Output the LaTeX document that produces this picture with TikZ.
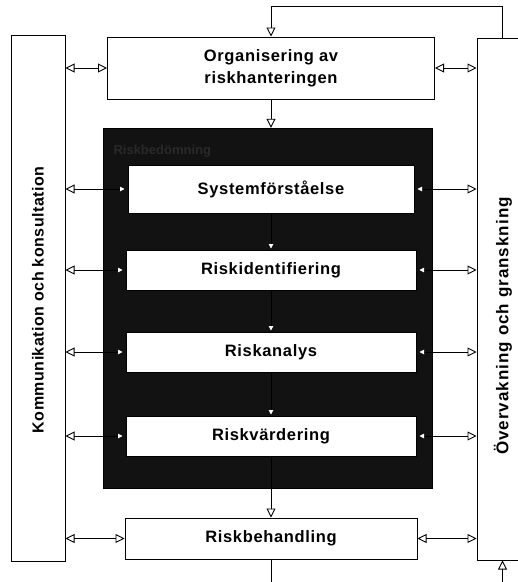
\documentclass[tikz,border=0pt]{standalone}
\usepackage{fontspec}
\setmainfont{Liberation Sans}
\usetikzlibrary{arrows.meta}
\begin{document}
\begin{tikzpicture}[x=1pt,y=-1pt,
  box/.style={draw=black, line width=1pt, fill=white, inner sep=0pt},
  lbl/.style={font=\bfseries\fontsize{16.5}{22}\selectfont\addfontfeature{LetterSpace=4}, align=center},
  vlbl/.style={font=\bfseries\fontsize{16}{20}\selectfont\addfontfeature{LetterSpace=3}, rotate=90},
  conn/.style={line width=0.9pt},
  oarr/.style={conn,-{Triangle[open,length=9pt,width=9pt,line width=0.9pt]}},
  dbl/.style={conn,{Triangle[open,length=9pt,width=9pt,line width=0.9pt]}-{Triangle[open,length=9pt,width=9pt,line width=0.9pt]}},
  lw/.style={conn,{Triangle[open,length=9pt,width=9pt,line width=0.9pt]}-{Triangle[length=4.5pt,width=4.5pt,color=white]}},
  rw/.style={conn,{Triangle[length=4.5pt,width=4.5pt,color=white]}-{Triangle[open,length=9pt,width=9pt,line width=0.9pt]}},
  dw/.style={conn,-{Triangle[length=4.5pt,width=4.5pt,color=white]}}
]
\useasboundingbox (0,0) rectangle (518,582);
\clip (0,0) rectangle (518,582);
\fill[white] (0,0) rectangle (518,582);

% side boxes
\node[box, minimum width=54pt, minimum height=526pt] (kom) at (38,298) {};
\node[vlbl] (komt) at (38,300) {Kommunikation och konsultation};
\node[box, minimum width=83pt, minimum height=522pt] (ovr) at (518.5,299) {};
\node[vlbl, font=\bfseries\fontsize{17}{20}\selectfont\addfontfeature{LetterSpace=6}] (ovrt) at (503,326) {Övervakning och granskning};

% top box
\node[box, minimum width=327pt, minimum height=62pt, lbl] (org) at (271,68) {Organisering av\\riskhanteringen};

% black assessment box
\node[draw=black, fill=black!93, minimum width=329pt, minimum height=360pt, inner sep=0pt] (blk) at (267.5,308) {};
\node[anchor=west, font=\bfseries\fontsize{13}{15}\selectfont, text=black!84] (blkt) at (110,151) {Riskbedömning};

% inner boxes
\node[box, minimum width=286pt, minimum height=48pt, lbl] (sys) at (271,189) {Systemförståelse};
\node[box, minimum width=290pt, minimum height=40pt, lbl] (rid) at (271,270) {Riskidentifiering};
\node[box, minimum width=290pt, minimum height=40pt, lbl] (rana) at (271,352) {Riskanalys};
\node[box, minimum width=290pt, minimum height=40pt, lbl] (rvar) at (271,436) {Riskvärdering};
\node[box, minimum width=292pt, minimum height=41pt, lbl] (rbeh) at (271,538.5) {Riskbehandling};

% feedback loop
\draw[oarr] ([xshift=26pt]ovr.north west) |- ([yshift=30pt]org.north) -- (org.north);
\draw[oarr] (org.south) -- (org.south |- blk.north);

% vertical flow inside
\draw[dw, shorten >=1pt] (sys.south) -- (rid.north);
\draw[dw, shorten >=1pt] (rid.south) -- (rana.north);
\draw[dw, shorten >=1pt] (rana.south) -- (rvar.north);
\draw[oarr] (rvar.south) -- (rbeh.north);
\draw[oarr] (rbeh.south) -- ++(0,30) -| ([xshift=26pt]ovr.south west);

% side connectors
\draw[dbl] (kom.east |- org.west) -- (org.west);
\draw[dbl] (org.east) -- (ovr.west |- org.east);
\draw[dbl] (kom.east |- rbeh.west) -- (rbeh.west);
\draw[dbl] (rbeh.east) -- (ovr.west |- rbeh.east);

\foreach \n in {sys,rid,rana,rvar}{
  \draw[lw] (kom.east |- \n.west) -- ([xshift=-3pt]\n.west);
  \draw[rw] ([xshift=3pt]\n.east) -- (ovr.west |- \n.east);
}
\end{tikzpicture}
\end{document}
